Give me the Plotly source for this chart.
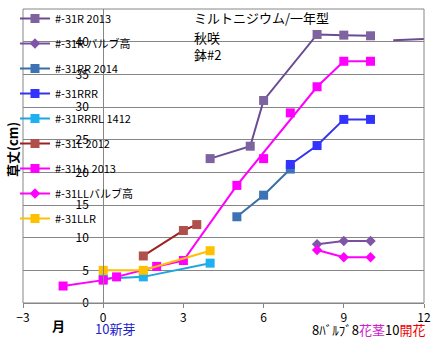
import plotly.graph_objects as go

# ---- data ----
r2013_x = [4, 5.5, 6, 8, 9, 10]
r2013_y = [22.1, 24.0, 31.0, 41.1, 41.0, 40.9]
r2013_tail_x = [10.85, 12]
r2013_tail_y = [40.2, 40.4]

rbulb_x = [8, 9, 10]
rbulb_y = [9.0, 9.5, 9.5]

rr2014_x = [5, 6, 7]
rr2014_y = [13.2, 16.5, 20.5]

rrr_x = [7, 8, 9, 10]
rrr_y = [21.2, 24.1, 28.1, 28.1]

rrrl_x = [0, 1.5, 4]
rrrl_y = [3.7, 4.0, 6.1]

l2012_x = [1.5, 3, 3.5]
l2012_y = [7.2, 11.1, 12.0]

ll2013_x = [-1.5, 0, 0.5, 2, 3, 5, 8, 9, 10]
ll2013_y = [2.6, 3.5, 4.0, 5.6, 6.5, 18.0, 33.1, 37.0, 37.0]
ll2013_extra_x = [6, 7]
ll2013_extra_y = [22.1, 29.1]

llbulb_x = [8, 9, 10]
llbulb_y = [8.1, 7.0, 7.0]

llr_x = [0, 1.5, 4]
llr_y = [5.0, 5.0, 8.0]

x_ticks = [-3, 0, 3, 6, 9, 12]
y_ticks = [0, 5, 10, 15, 20, 25, 30, 35, 40, 45]

FONT = "Noto Sans CJK JP"

fig = go.Figure()

def add(name, x, y, line_color, marker_color, symbol, msize, group):
    fig.add_trace(go.Scatter(
        x=x, y=y, name=name, mode="lines+markers",
        line=dict(color=line_color, width=2),
        marker=dict(color=marker_color, symbol=symbol, size=msize),
        legendgroup=group,
    ))

add("#-31R 2013", r2013_x, r2013_y, "#6A4C93", "#7F63A0", "square", 9, "g1")
add("#-31R バルブ高", rbulb_x, rbulb_y, "#7A4FA0", "#7F55A8", "diamond", 8, "g2")
add("#-31RR 2014", rr2014_x, rr2014_y, "#3A6EA5", "#3D72B5", "square", 9, "g3")
add("#-31RRR", rrr_x, rrr_y, "#3333EE", "#3333FF", "square", 9, "g4")
add("#-31RRRL 1412", rrrl_x, rrrl_y, "#1EA5E0", "#1EB0F0", "square", 9, "g5")
add("#-31L 2012", l2012_x, l2012_y, "#A02020", "#B0504A", "square", 9, "g6")
add("#-31LL 2013", ll2013_x, ll2013_y, "#FF00FF", "#FF00FF", "square", 9, "g7")
add("#-31LLバルブ高", llbulb_x, llbulb_y, "#FF00FF", "#FF00FF", "diamond", 8, "g8")
add("#-31LLR", llr_x, llr_y, "#FFC000", "#FFC000", "square", 9, "g9")

fig.add_trace(go.Scatter(x=ll2013_extra_x, y=ll2013_extra_y, mode="markers",
                         marker=dict(color="#FF00FF", symbol="square", size=9),
                         showlegend=False))
fig.add_trace(go.Scatter(x=r2013_tail_x, y=r2013_tail_y, mode="lines",
                         line=dict(color="#6A4C93", width=2), showlegend=False))

fig.update_layout(
    width=446, height=341,
    margin=dict(l=23, r=22, t=9, b=38, autoexpand=False),
    paper_bgcolor="white", plot_bgcolor="white",
    font=dict(family=FONT, size=12, color="black"),
    showlegend=True,
    legend=dict(x=-0.02, y=1.017, xanchor="left", yanchor="top",
                bgcolor="rgba(0,0,0,0)", font=dict(size=11, family=FONT),
                traceorder="grouped", tracegroupgap=6, itemwidth=30,
                maxheight=330),
    xaxis=dict(range=[-3, 12], tickvals=x_ticks, showgrid=False, zeroline=False,
               showline=True, linecolor="#868686", ticks="outside", ticklen=4,
               tickcolor="#868686", tickfont=dict(size=12, family=FONT)),
    yaxis=dict(range=[0, 45], tickvals=y_ticks, showgrid=True, gridcolor="#868686",
               zeroline=False, showline=True, linecolor="#868686",
               anchor="free", position=0.2, ticks="outside", ticklen=12,
               tickcolor="rgba(0,0,0,0)", tickfont=dict(size=12, family=FONT)),
    shapes=[dict(type="rect", xref="paper", yref="paper", x0=0, x1=1, y0=0, y1=1,
                 line=dict(color="#868686", width=1))],
)

ann = [
    dict(text="ミルトニジウム/一年型", x=192, y=17),
    dict(text="秋咲", x=192, y=37),
    dict(text="鉢#2", x=192, y=55),
]
for a in ann:
    fig.add_annotation(text=a["text"], xref="paper", yref="paper",
                       x=(a["x"] - 23) / 401, y=(303 - a["y"]) / 294,
                       xanchor="left", yanchor="middle", showarrow=False,
                       font=dict(size=13, family=FONT, color="black"))

fig.add_annotation(text="<b>草丈(cm)</b>", xref="paper", yref="paper",
                   x=(12 - 23) / 401, y=(303 - 150) / 294, textangle=-90,
                   xanchor="center", yanchor="middle",
                   showarrow=False, font=dict(size=13, family=FONT))
fig.add_annotation(text="<b>月</b>", xref="paper", yref="paper",
                   x=(58 - 23) / 401, y=(303 - 325) / 294, showarrow=False,
                   xanchor="center", yanchor="middle",
                   font=dict(size=13, family=FONT))
fig.add_annotation(text="10新芽", xref="paper", yref="paper",
                   x=(93 - 23) / 401, y=(303 - 328) / 294, xanchor="left",
                   yanchor="middle",
                   showarrow=False, font=dict(size=13, family=FONT, color="#2222CC"))
fig.add_annotation(
    text="8ﾊﾞﾙﾌﾞ8<span style='color:#CC22CC'>花茎</span>10<span style='color:#EE0000'>開花</span>",
    xref="paper", yref="paper", x=(310 - 23) / 401, y=(303 - 329) / 294,
    xanchor="left", yanchor="middle", showarrow=False,
    font=dict(size=13, family=FONT, color="black"))

fig.write_html("out.html")
